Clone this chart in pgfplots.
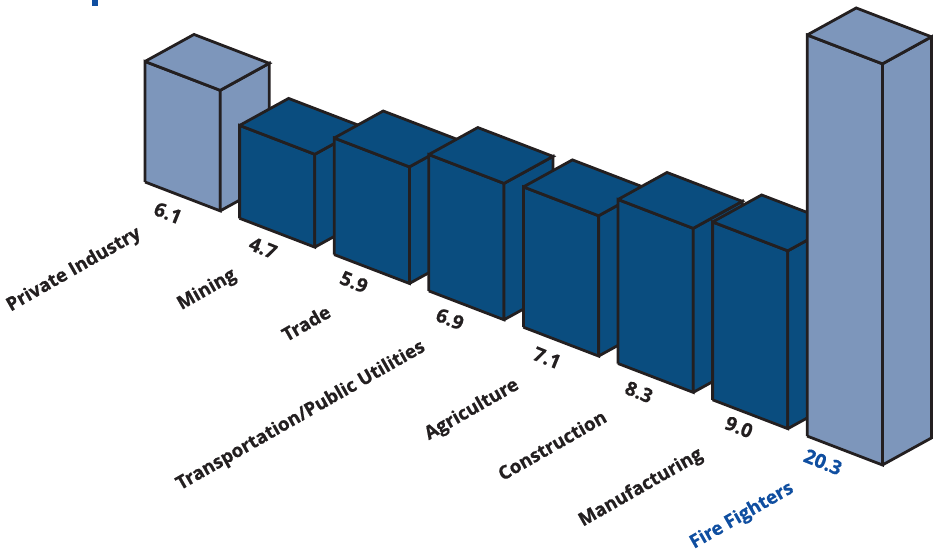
\documentclass[border=0pt]{standalone}
\usepackage{pgfplots}
\pgfplotsset{compat=1.18}
\usepackage{fontspec}
\setmainfont[BoldFeatures={FakeBold=0.6}]{Open Sans}
\definecolor{lightbar}{HTML}{7D96BB}
\definecolor{darkbar}{HTML}{0A4D7F}
\definecolor{edge}{HTML}{231F20}
\definecolor{hiblue}{HTML}{0F4EA0}

% one box: x from #1 to #2, height #3, fill #4
\newcommand{\threedbar}[4]{%
  \addplot3[fill=#4,draw=edge,line width=2.8pt,line join=miter,mark=none] coordinates
    {(#1,0,0) (#2,0,0) (#2,0,#3) (#1,0,#3) (#1,0,0)};
  \addplot3[fill=#4,draw=edge,line width=2.8pt,line join=miter,mark=none] coordinates
    {(#2,0,0) (#2,1,0) (#2,1,#3) (#2,0,#3) (#2,0,0)};
  \addplot3[fill=#4,draw=edge,line width=2.8pt,line join=miter,mark=none] coordinates
    {(#1,0,#3) (#2,0,#3) (#2,1,#3) (#1,1,#3) (#1,0,#3)};
}
% label centred on a reference pixel
\newcommand{\lab}[5]{\node[rotate=#3,text=#4,inner sep=0pt,font=\fontsize{#5}{22}\selectfont\bfseries] at (#1pt,553pt-#2pt)}

\begin{document}
\begin{tikzpicture}
\path[use as bounding box] (0,0) rectangle (933pt,553pt);
\fill[hiblue] (92pt,547pt) rectangle (98pt,553pt);
\begin{axis}[
    at={(145pt,371pt)},anchor=origin,
    x={(94.6pt,-36.3pt)},y={(49pt,27pt)},z={(0pt,19.76pt)},
    xmin=0,xmax=8,ymin=0,ymax=1,zmin=0,zmax=21,
    hide axis,clip=false,
]
\threedbar{0}{0.795}{6.1}{lightbar}
\threedbar{1}{1.795}{4.7}{darkbar}
\threedbar{2}{2.795}{5.9}{darkbar}
\threedbar{3}{3.795}{6.9}{darkbar}
\threedbar{4}{4.795}{7.1}{darkbar}
\threedbar{5}{5.795}{8.3}{darkbar}
\threedbar{6}{6.795}{9.0}{darkbar}
\threedbar{7}{7.795}{20.3}{lightbar}
\end{axis}
\lab{74}{270}{29.7}{edge}{18.7}{Private Industry};
\lab{207}{290}{29.7}{edge}{18.7}{Mining};
\lab{306}{323}{29.7}{edge}{18.7}{Trade};
\lab{301}{416}{29.7}{edge}{18.7}{Transportation/Public Utilities};
\lab{472}{410}{29.7}{edge}{18.7}{Agriculture};
\lab{552}{445}{29.7}{edge}{18.7}{Construction};
\lab{641}{488}{29.7}{edge}{18.7}{Manufacturing};
\lab{742}{516}{29.7}{hiblue}{18.7}{Fire Fighters};
\lab{168}{213}{-22}{edge}{19.5}{6.1};
\lab{263}{248}{-22}{edge}{19.5}{4.7};
\lab{354}{282}{-22}{edge}{19.5}{5.9};
\lab{450}{319}{-22}{edge}{19.5}{6.9};
\lab{547}{358}{-22}{edge}{19.5}{7.1};
\lab{639}{392}{-22}{edge}{19.5}{8.3};
\lab{739}{427}{-22}{edge}{19.5}{9.0};
\lab{823}{462}{-22}{hiblue}{19.5}{20.3};
\end{tikzpicture}
\end{document}
